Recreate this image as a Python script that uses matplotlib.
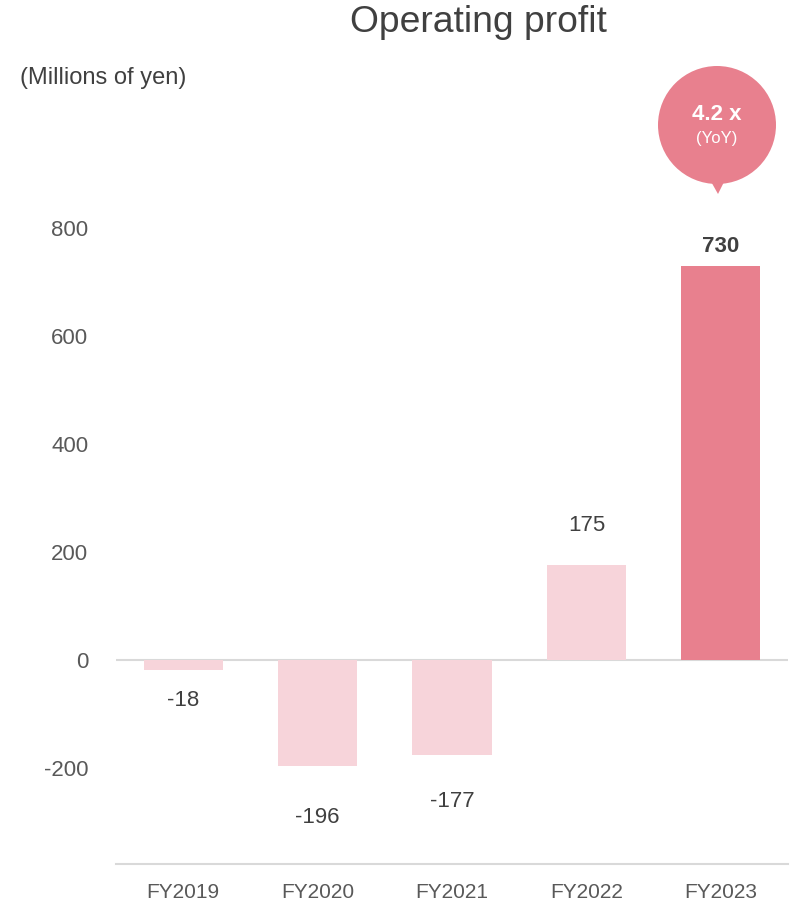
import matplotlib.pyplot as plt
from matplotlib.patches import Ellipse, Polygon

plt.rcParams['font.family'] = ['Liberation Sans', 'DejaVu Sans']
plt.rcParams['axes.unicode_minus'] = False

# Operating profit by fiscal year (millions of yen)
years = ['FY2019', 'FY2020', 'FY2021', 'FY2022', 'FY2023']
profit = [-18, -196, -177, 175, 730]
yoy_text = '4.2 x'

light = '#F7D4DA'
strong = '#E8808E'
bar_colors = [light, light, light, light, strong]
# vertical offset of each value label from the bar end, in points
label_offsets = [-22, -37, -33, 29, 14]

W, H = 792, 909
fig = plt.figure(figsize=(W / 100, H / 100), dpi=100)
ax = fig.add_axes([116 / W, 45 / H, 672 / W, 664 / H])

x = range(len(years))
ax.bar(x, profit, width=0.59, color=bar_colors, zorder=2)
ax.axhline(0, color='#D9D9D9', lw=1.5, zorder=1)

ax.set_xlim(-0.5, 4.5)
ax.set_ylim(-378, 852)
ax.set_yticks([-200, 0, 200, 400, 600, 800])
ax.set_xticks(list(x))
ax.set_xticklabels(years)
ax.tick_params(axis='y', length=0, pad=20, labelsize=16, labelcolor='#595959')
ax.tick_params(axis='x', length=0, pad=14, labelsize=15, labelcolor='#595959')
for side in ['top', 'left', 'right']:
    ax.spines[side].set_visible(False)
ax.spines['bottom'].set_color('#D9D9D9')
ax.spines['bottom'].set_linewidth(1.5)

for i, (v, off) in enumerate(zip(profit, label_offsets)):
    last = i == len(profit) - 1
    ax.annotate(f'{v}', (i, v), xytext=(0, off), textcoords='offset points',
                ha='center', va='center', fontsize=16, color='#404040',
                fontweight='bold' if last else 'normal')

fig.text(478 / W, 1 - 22 / H, 'Operating profit', ha='center', va='center',
         fontsize=26.8, color='#404040')
fig.text(20 / W, 1 - 78 / H, '(Millions of yen)', ha='left', va='center',
         fontsize=17, color='#404040')

# speech bubble above the latest bar
cx, cy, r = 717, 125, 59
fig.patches.append(Ellipse((cx / W, 1 - cy / H), 2 * r / W, 2 * r / H,
                           transform=fig.transFigure, color=strong, lw=0))
fig.patches.append(Polygon([(709 / W, 1 - 178 / H), (726 / W, 1 - 178 / H),
                            (718 / W, 1 - 194 / H)],
                           closed=True, transform=fig.transFigure, color=strong, lw=0))
fig.text(cx / W, 1 - 115 / H, yoy_text, ha='center', va='center',
         fontsize=16, fontweight='bold', color='white')
fig.text(cx / W, 1 - 139 / H, '(YoY)', ha='center', va='center',
         fontsize=12, color='white')

fig.savefig('out.png', dpi=100)
